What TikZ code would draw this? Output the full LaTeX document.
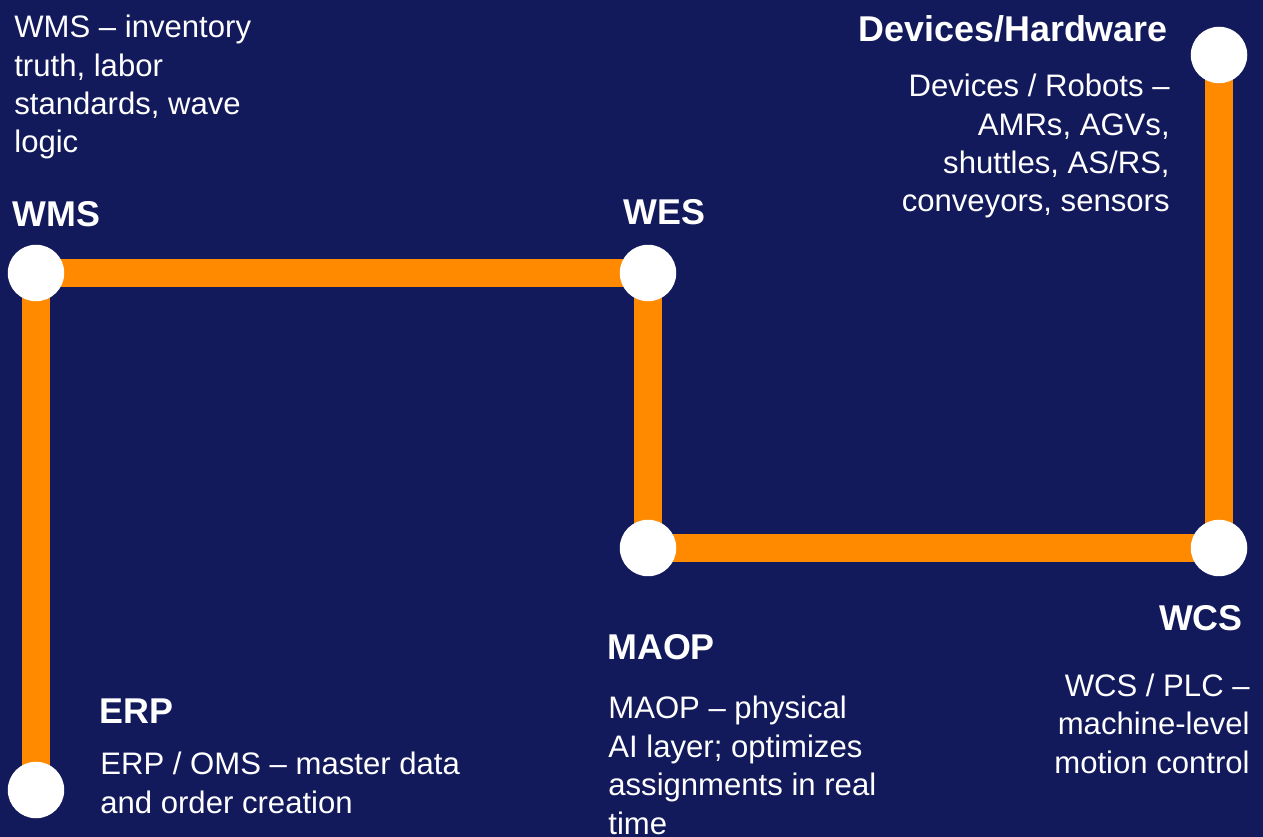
\documentclass[tikz,border=0pt]{standalone}
\usepackage{fontspec}
\setmainfont{Liberation Sans}
\definecolor{navy}{HTML}{131A5C}
\definecolor{trackorange}{HTML}{FF8A00}
\pgfdeclarelayer{bg}
\pgfsetlayers{bg,main}
\begin{document}
\begin{tikzpicture}[x=0.02cm,y=-0.02cm,
    dot/.style={circle,fill=white,minimum size=1.13cm,inner sep=0},
    track/.style={line width=0.57cm,draw=trackorange},
    title/.style={font=\fontsize{20.4}{25}\selectfont\bfseries,text=white,inner sep=0},
    desc/.style={font=\fontsize{17.7}{21.9}\selectfont,text=white,inner sep=0}]
  \useasboundingbox (0,0) rectangle (1263,837);
  % stations
  \node[dot] (erp) at (36,790) {};
  \node[dot] (wms) at (36,273) {};
  \node[dot] (wes) at (648,273) {};
  \node[dot] (maop) at (648,548) {};
  \node[dot] (wcs) at (1219,548) {};
  \node[dot] (dev) at (1219,55) {};
  \begin{pgfonlayer}{bg}
    \fill[navy] (0,0) rectangle (1263,837);
    \draw[track] (erp.center) -- (wms.center) -- (wes.center) -- (maop.center)
      -- (wcs.center) -- (dev.center);
  \end{pgfonlayer}
  % labels (base = last line)
  \node[desc,anchor=base west,align=left] (wmsnote) at (14,153)
    {WMS – inventory\\truth, labor\\standards, wave\\logic};
  \node[title,anchor=base west] (wmslabel) at (12,227) {WMS};
  \node[title,anchor=base west] (weslabel) at (623,225) {WES};
  \node[title,anchor=base east] (devlabel) at (1168,42) {Devices/Hardware};
  \node[desc,anchor=base east,align=right] (devnote) at (1170,212)
    {Devices / Robots –\\AMRs, AGVs,\\shuttles, AS/RS,\\conveyors, sensors};
  \node[title,anchor=base east] (wcslabel) at (1243,630) {WCS};
  \node[desc,anchor=base east,align=right] (wcsnote) at (1250,773)
    {WCS / PLC –\\machine-level\\motion control};
  \node[title,anchor=base west] (maoplabel) at (607,659) {MAOP};
  \node[desc,anchor=base west,align=left] (maopnote) at (608,834)
    {MAOP – physical\\AI layer; optimizes\\assignments in real\\time};
  \node[title,anchor=base west] (erplabel) at (99,723) {ERP};
  \node[desc,anchor=base west,align=left] (erpnote) at (100,813)
    {ERP / OMS – master data\\and order creation};
\end{tikzpicture}
\end{document}
